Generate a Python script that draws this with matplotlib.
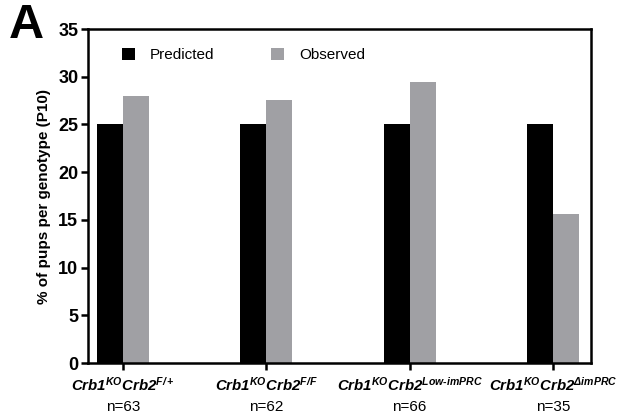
import matplotlib
matplotlib.use("Agg")
import matplotlib.pyplot as plt
import matplotlib.transforms as mtransforms
import numpy as np

plt.rcParams['font.family'] = ['Liberation Sans', 'DejaVu Sans']
plt.rcParams['mathtext.fontset'] = 'custom'
plt.rcParams['mathtext.rm'] = 'Liberation Sans:bold:italic'
plt.rcParams['mathtext.it'] = 'Liberation Sans:bold:italic'
plt.rcParams['mathtext.bf'] = 'Liberation Sans:bold:italic'

genotypes = [r'$Crb1^{KO}Crb2^{F/+}$',
             r'$Crb1^{KO}Crb2^{F/F}$',
             r'$Crb1^{KO}Crb2^{Low\text{-}imPRC}$',
             r'$Crb1^{KO}Crb2^{\Delta imPRC}$']
n_labels = ['n=63', 'n=62', 'n=66', 'n=35']
predicted = [25.0, 25.0, 25.0, 25.0]
observed = [28.0, 27.6, 29.4, 15.6]

fig = plt.figure(figsize=(6.21, 4.17), dpi=100)
ax = fig.add_axes([88/621, 1-363/417, (591-88)/621, (363-29)/417])

x = np.arange(len(genotypes))
w = 0.181
ax.bar(x - w/2, predicted, width=w, color='black', label='Predicted')
ax.bar(x + w/2, observed, width=w, color='#a0a0a4', label='Observed')

ax.set_xlim(-0.244, 3.266)
ax.set_ylim(0, 35)
ax.set_yticks(range(0, 36, 5))
ax.set_xticks(x)
ax.set_xticklabels(genotypes, fontsize=10.8)
ax.tick_params(axis='both', width=1.8, length=5, direction='out')
ax.tick_params(axis='y', labelsize=13, pad=2)
ax.tick_params(axis='x', pad=4)
for lbl in ax.get_yticklabels():
    lbl.set_fontweight('bold')
for sp in ax.spines.values():
    sp.set_linewidth(1.8)

ax.set_ylabel('% of pups per genotype (P10)', fontsize=11, fontweight='bold', labelpad=5)

trans = mtransforms.blended_transform_factory(ax.transData, fig.transFigure)
for xi, n in zip(x, n_labels):
    ax.text(xi, 1-407/417, n, transform=trans, ha='center', va='center', fontsize=11)

leg = ax.legend(loc='upper left', ncol=2, frameon=False, fontsize=11,
                handlelength=0.85, handleheight=0.85, columnspacing=3.7,
                handletextpad=1.0, bbox_to_anchor=(0.04, 0.985))

fig.text(9/621, 1-26/417, 'A', fontsize=35, fontweight='bold', va='center', ha='left')

fig.savefig('out.png', dpi=100)
